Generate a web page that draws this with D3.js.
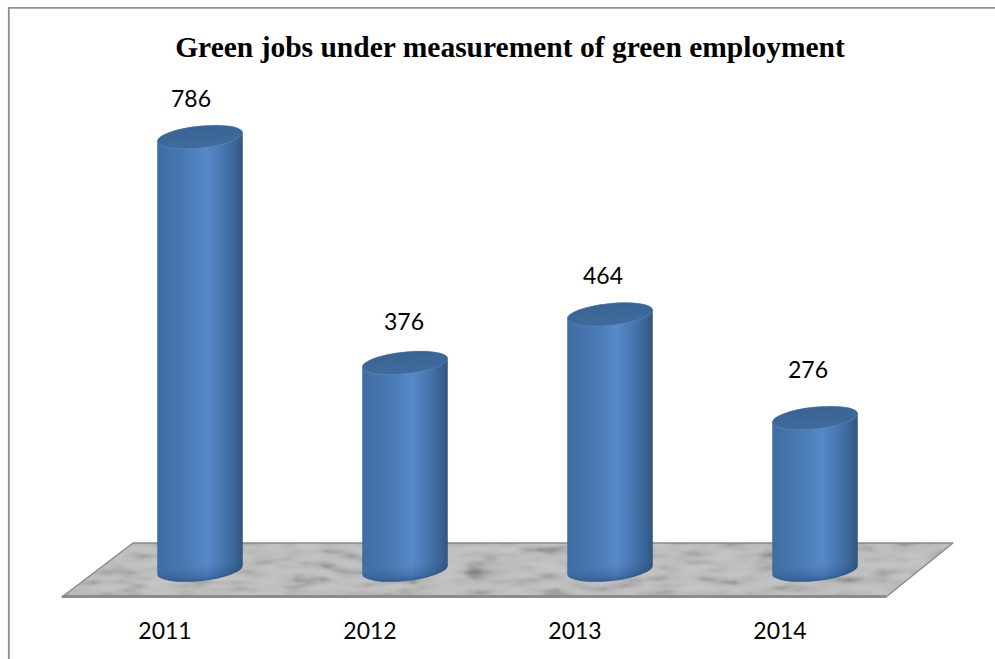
<!DOCTYPE html>
<html>
<head>
<meta charset="utf-8">
<style>
  html, body { margin: 0; padding: 0; background: #fff; }
  svg { display: block; }
</style>
<script src="https://cdn.jsdelivr.net/npm/d3@7"></script>
</head>
<body>
<svg id="chart" width="995" height="659"></svg>
<script>
// Chart content
const chartTitle = "Green jobs under measurement of green employment";
const years = ["2011", "2012", "2013", "2014"];
const greenJobs = [786, 376, 464, 276];

// Layout
const W = 995, H = 659;
const baseY = 570;
const rx = 43, ry = 11, tilt = -6;
const tiltRad = tilt * Math.PI / 180;
const valueLabelShiftX = [-9, -1, -7, -7];
const valueLabelLift = [30, 33, 30, 40];
const floorCorners = [[133, 543], [953, 543], [886, 597], [62, 597]];

const svg = d3.select("#chart");

const x = d3.scalePoint().domain(years).range([200, 815]);
const y = d3.scaleLinear().domain([0, 786]).range([baseY, 137]);

const defs = svg.append("defs");

// Horizontal shading that gives each cylinder its roundness
const bodyGrad = defs.append("linearGradient").attr("id", "cylBody");
[[0, "#3f6da3"], [0.3, "#4778b0"], [0.58, "#5689ca"], [0.78, "#4675ad"], [0.93, "#386291"], [1, "#31547a"]]
  .forEach(([o, c]) => bodyGrad.append("stop").attr("offset", o).attr("stop-color", c));

const capGrad = defs.append("linearGradient").attr("id", "cylCap")
  .attr("x1", 0).attr("y1", 0).attr("x2", 0).attr("y2", 1);
[[0, "#3a6391"], [1, "#3f6b9f"]]
  .forEach(([o, c]) => capGrad.append("stop").attr("offset", o).attr("stop-color", c));

// Darkened rim along the foot of each cylinder
const footGrad = defs.append("linearGradient").attr("id", "cylFoot")
  .attr("x1", 0).attr("y1", 0).attr("x2", 0).attr("y2", 1);
[[0.3, 0], [0.75, 0.2], [1, 0.45]]
  .forEach(([o, a]) => footGrad.append("stop").attr("offset", o)
    .attr("stop-color", "#14305c").attr("stop-opacity", a));

// Grey marble surface for the floor
const marble = defs.append("filter").attr("id", "marble")
  .attr("filterUnits", "userSpaceOnUse")
  .attr("x", 0).attr("y", 530).attr("width", W).attr("height", 80)
  .attr("color-interpolation-filters", "sRGB");
marble.append("feTurbulence")
  .attr("type", "fractalNoise")
  .attr("baseFrequency", "0.028 0.13")
  .attr("numOctaves", 4)
  .attr("seed", 11);
marble.append("feColorMatrix")
  .attr("type", "matrix")
  .attr("values", "1 0 0 0 0  1 0 0 0 0  1 0 0 0 0  0 0 0 0 1");
const transfer = marble.append("feComponentTransfer");
["feFuncR", "feFuncG", "feFuncB"].forEach(f => transfer.append(f)
  .attr("type", "table")
  .attr("tableValues", "0.45 0.50 0.56 0.64 0.70 0.73 0.75 0.76 0.77 0.77 0.78 0.78"));
marble.append("feGaussianBlur").attr("stdDeviation", 0.8);

defs.append("clipPath").attr("id", "floorClip")
  .append("polygon").attr("points", floorCorners.join(" "));

// Outer chart frame: only the top and left edges are visible
svg.append("path")
  .attr("d", `M${W},7.8H8.8V${H}`)
  .attr("fill", "none")
  .attr("stroke", "#8e8e8e")
  .attr("stroke-width", 1.8);

// Title
svg.append("text")
  .attr("x", 510).attr("y", 57)
  .attr("text-anchor", "middle")
  .attr("font-family", "'Liberation Serif', serif")
  .attr("font-weight", "bold")
  .attr("font-size", 29.5)
  .attr("fill", "#000")
  .text(chartTitle);

// Floor
svg.append("g").attr("clip-path", "url(#floorClip)")
  .append("rect")
  .attr("x", 0).attr("y", 530).attr("width", W).attr("height", 80)
  .attr("filter", "url(#marble)");
svg.append("polygon")
  .attr("points", floorCorners.join(" "))
  .attr("fill", "none")
  .attr("stroke", "#8b8b8b")
  .attr("stroke-width", 1.5)
  .attr("stroke-linejoin", "round");
svg.append("line")
  .attr("x1", floorCorners[3][0]).attr("x2", floorCorners[2][0])
  .attr("y1", 596.5).attr("y2", 596.5)
  .attr("stroke", "#8b8b8b").attr("stroke-width", 3);

// Cylinders
const dx = rx * Math.cos(tiltRad), dy = -rx * Math.sin(tiltRad);
const cyl = svg.selectAll("g.cylinder")
  .data(years.map((year, i) => ({ year, value: greenJobs[i] })))
  .join("g")
  .attr("class", "cylinder");

cyl.append("path")
  .attr("fill", "url(#cylBody)")
  .attr("d", d => {
    const cx = x(d.year), top = y(d.value);
    return `M${cx - dx},${top + dy}` +
      `V${baseY + dy}` +
      `A${rx},${ry} ${tilt} 0 0 ${cx + dx},${baseY - dy}` +
      `V${top - dy}` +
      `A${rx},${ry} ${tilt} 0 0 ${cx - dx},${top + dy}Z`;
  });

cyl.append("ellipse")
  .attr("cx", d => x(d.year)).attr("cy", baseY)
  .attr("rx", rx).attr("ry", ry)
  .attr("fill", "url(#cylFoot)")
  .attr("transform", d => `rotate(${tilt} ${x(d.year)} ${baseY})`);

cyl.append("ellipse")
  .attr("cx", d => x(d.year)).attr("cy", d => y(d.value))
  .attr("rx", rx).attr("ry", ry)
  .attr("fill", "url(#cylCap)")
  .attr("stroke", "#7f9fc6")
  .attr("stroke-opacity", 0.45)
  .attr("stroke-width", 0.7)
  .attr("transform", d => `rotate(${tilt} ${x(d.year)} ${y(d.value)})`);

// Value labels above the cylinders
cyl.append("text")
  .attr("x", (d, i) => x(d.year) + valueLabelShiftX[i])
  .attr("y", (d, i) => y(d.value) - valueLabelLift[i])
  .attr("text-anchor", "middle")
  .attr("font-family", "Lato, sans-serif")
  .attr("font-size", 23)
  .attr("fill", "#000")
  .text(d => d.value);

// Category axis below the floor
const axis = d3.axisBottom(x.copy().range([164.5, 779.5])).tickSize(0).tickPadding(0);
const axisG = svg.append("g")
  .attr("transform", "translate(0,623)")
  .call(axis);
axisG.select(".domain").remove();
axisG.selectAll("text")
  .attr("font-family", "Lato, sans-serif")
  .attr("font-size", 23)
  .attr("fill", "#000");
</script>
</body>
</html>
